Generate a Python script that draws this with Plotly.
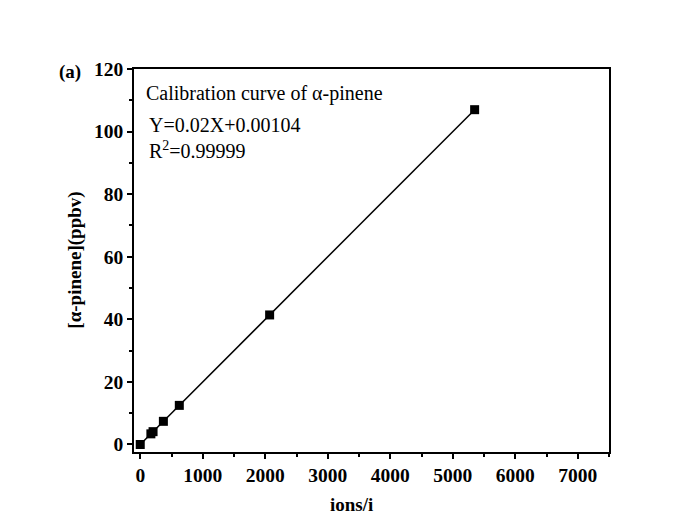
import plotly.graph_objects as go

ions = [0, 170, 205, 370, 625, 2070, 5350]
conc = [0, 3.4, 4.1, 7.4, 12.5, 41.4, 107]

x_ticks = [0, 1000, 2000, 3000, 4000, 5000, 6000, 7000]
y_ticks = [0, 20, 40, 60, 80, 100, 120]

FONT = "Liberation Serif"

fig = go.Figure()
fig.add_trace(go.Scatter(
    x=ions, y=conc, mode="lines+markers",
    line=dict(color="black", width=1.5),
    marker=dict(symbol="square", size=9, color="black"),
    showlegend=False,
))

axis_common = dict(
    showline=True, linecolor="black", linewidth=1.5, mirror=True,
    ticks="outside", ticklen=5, tickwidth=1.5, tickcolor="black",
    showgrid=False, zeroline=False,
    tickfont=dict(family=FONT, size=19.5, color="black", weight="bold"),
)

fig.update_xaxes(
    range=[-100, 7500], tickvals=x_ticks,
    minor=dict(ticks="outside", ticklen=3, tickwidth=1.5, tickcolor="black", dtick=500),
    **axis_common,
)
fig.update_yaxes(
    range=[-2.4, 120], tickvals=y_ticks,
    minor=dict(ticks="outside", ticklen=3, tickwidth=1.5, tickcolor="black", dtick=10),
    **axis_common,
)

ann_font = dict(family=FONT, size=20, color="black")
bold_font = dict(family=FONT, size=19, color="black", weight="bold")

fig.add_annotation(x=0.02, y=0.935, xref="paper", yref="paper", xanchor="left", yanchor="middle",
                   text="Calibration curve of α-pinene", showarrow=False, font=ann_font)
fig.add_annotation(x=0.028, y=0.855, xref="paper", yref="paper", xanchor="left", yanchor="middle",
                   text="Y=0.02X+0.00104", showarrow=False, font=ann_font)
fig.add_annotation(x=0.028, y=0.788, xref="paper", yref="paper", xanchor="left", yanchor="middle",
                   text="R<sup>2</sup>=0.99999", showarrow=False, font=ann_font)
fig.add_annotation(x=-0.135, y=0.993, xref="paper", yref="paper", xanchor="center", yanchor="middle",
                   text="(a)", showarrow=False, font=bold_font)
fig.add_annotation(x=-0.126, y=0.5, xref="paper", yref="paper", xanchor="center", yanchor="middle",
                   text="[α-pinene](ppbv)", textangle=-90, showarrow=False, font=bold_font)
fig.add_annotation(x=0.457, y=-0.136, xref="paper", yref="paper", xanchor="center", yanchor="middle",
                   text="ions/i", showarrow=False, font=bold_font)

fig.update_layout(
    width=692, height=528,
    margin=dict(l=126, r=91, t=61, b=84),
    paper_bgcolor="white", plot_bgcolor="white",
)

fig.write_html("out.html")
